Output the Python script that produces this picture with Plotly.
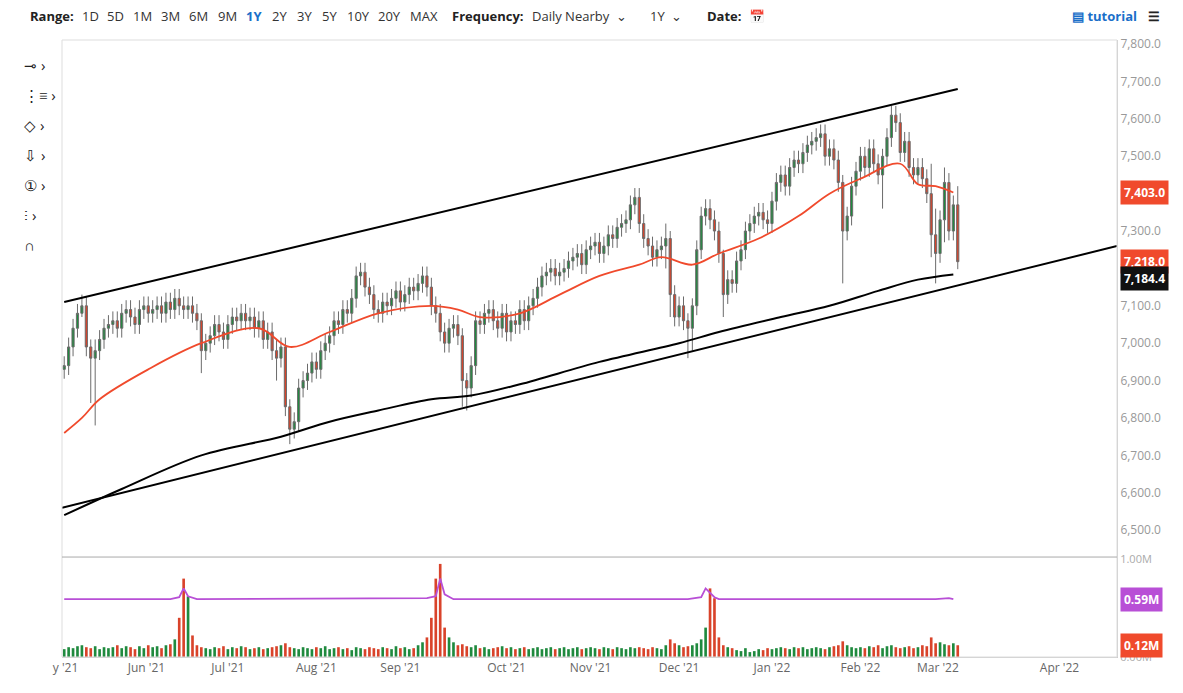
import plotly.graph_objects as go

# daily closes (candle index 0 = 18 May 2021)
closes = [
    6940, 6990, 7040, 7080, 7100, 6990, 6960, 6980, 7010, 7040,
    7050, 7060, 7040, 7080, 7090, 7070, 7050, 7090, 7100, 7080,
    7090, 7100, 7080, 7110, 7090, 7120, 7100, 7090, 7100, 7080,
    7060, 6980, 7000, 7020, 7050, 7030, 7010, 7050, 7070, 7060,
    7080, 7060, 7070, 7040, 7060, 7010, 7030, 6980, 6960, 6990,
    6830, 6770, 6790, 6880, 6900, 6920, 6950, 6930, 6980, 7000,
    7020, 7060, 7050, 7090, 7080, 7120, 7180, 7190, 7150, 7130,
    7090, 7080, 7110, 7100, 7120, 7140, 7110, 7130, 7150, 7140,
    7160, 7180, 7150, 7100, 7080, 7030, 7000, 7040, 7050, 7020,
    6900, 6880, 6940, 7060, 7050, 7080, 7090, 7060, 7040, 7080,
    7030, 7060, 7050, 7090, 7060, 7100, 7120, 7150, 7180, 7190,
    7200, 7180, 7190, 7200, 7220, 7230, 7240, 7210, 7250, 7260,
    7270, 7240, 7260, 7290, 7280, 7310, 7320, 7330, 7370, 7390,
    7320, 7280, 7260, 7230, 7250, 7260, 7280, 7130, 7070, 7100,
    7060, 7040, 7100, 7250, 7340, 7360, 7330, 7300, 7240, 7130,
    7170, 7160, 7220, 7250, 7300, 7320, 7340, 7350, 7330, 7320,
    7380, 7430, 7450, 7420, 7470, 7490, 7480, 7510, 7530, 7540,
    7550, 7560, 7500, 7520, 7490, 7430, 7300, 7340, 7420, 7460,
    7500, 7470, 7520, 7480, 7450, 7500, 7550, 7610, 7590, 7510,
    7540, 7470, 7450, 7470, 7440, 7400, 7290, 7240, 7330, 7430,
    7300, 7370, 7218,
]
first_open = 6930
wick = 25
# longer wicks seen on the chart: index -> (up, down)
long_wicks = {
    4: (30, 10), 6: (20, 120), 7: (30, 180), 31: (20, 60), 48: (30, 60),
    51: (20, 40), 90: (20, 70), 91: (20, 60), 136: (40, 60), 137: (20, 60),
    141: (20, 80), 142: (20, 60), 149: (10, 60), 176: (20, 140),
    185: (20, 90), 196: (80, 60), 197: (70, 80), 199: (40, 60), 202: (50, 20),
}

# volume (millions) per candle
volume = [
    0.08, 0.10, 0.09, 0.11, 0.12, 0.10, 0.09, 0.11, 0.08, 0.10,
    0.09, 0.10, 0.12, 0.09, 0.11, 0.10, 0.08, 0.11, 0.09, 0.12,
    0.10, 0.11, 0.09, 0.12, 0.13, 0.18, 0.40, 0.80, 0.62, 0.22,
    0.12, 0.10, 0.09, 0.08, 0.10, 0.09, 0.11, 0.08, 0.10, 0.09,
    0.11, 0.10, 0.08, 0.09, 0.10, 0.08, 0.09, 0.10, 0.11, 0.12,
    0.14, 0.10, 0.09, 0.08, 0.10, 0.09, 0.08, 0.10, 0.09, 0.11,
    0.08, 0.09, 0.10, 0.08, 0.09, 0.07, 0.10, 0.09, 0.08, 0.10,
    0.09, 0.08, 0.10, 0.09, 0.08, 0.11, 0.09, 0.10, 0.08, 0.09,
    0.12, 0.15, 0.20, 0.40, 0.80, 0.95, 0.30, 0.20, 0.15, 0.12,
    0.13, 0.11, 0.10, 0.12, 0.09, 0.10, 0.08, 0.09, 0.10, 0.11,
    0.09, 0.10, 0.08, 0.09, 0.10, 0.08, 0.09, 0.10, 0.08, 0.09,
    0.10, 0.08, 0.09, 0.10, 0.08, 0.09, 0.10, 0.08, 0.09, 0.10,
    0.09, 0.08, 0.10, 0.09, 0.08, 0.10, 0.09, 0.08, 0.10, 0.09,
    0.10, 0.09, 0.08, 0.10, 0.09, 0.08, 0.12, 0.18, 0.14, 0.12,
    0.10, 0.11, 0.12, 0.14, 0.18, 0.30, 0.70, 0.60, 0.20, 0.12,
    0.10, 0.09, 0.07, 0.06, 0.09, 0.05, 0.06, 0.08, 0.07, 0.09,
    0.08, 0.09, 0.10, 0.09, 0.08, 0.10, 0.09, 0.10, 0.08, 0.09,
    0.10, 0.09, 0.08, 0.10, 0.11, 0.12, 0.16, 0.12, 0.10, 0.09,
    0.10, 0.09, 0.11, 0.10, 0.12, 0.09, 0.11, 0.12, 0.10, 0.09,
    0.10, 0.11, 0.09, 0.10, 0.12, 0.11, 0.20, 0.14, 0.15, 0.13,
    0.12, 0.14, 0.12,
]

# moving averages and open interest line (candle index, value)
ma50_idx = [0, 4, 8, 19, 31, 44, 51, 60, 71, 83, 89, 94, 103, 112, 121, 130, 135, 142, 148, 157, 166, 173, 180, 189, 193, 197, 201]
ma50_val = [6760, 6800, 6850, 6930, 7000, 7040, 6990, 7030, 7080, 7100, 7090, 7070, 7080, 7130, 7180, 7210, 7230, 7210, 7240, 7280, 7340, 7400, 7440, 7480, 7425, 7420, 7403]
ma200_idx = [0, 13, 31, 49, 60, 71, 83, 92, 103, 121, 139, 148, 162, 173, 184, 193, 201]
ma200_val = [6540, 6610, 6700, 6750, 6790, 6820, 6850, 6860, 6890, 6950, 7000, 7030, 7070, 7100, 7140, 7170, 7184]
oi_idx = [0, 24, 26, 27, 28, 30, 82, 84, 85, 86, 88, 141, 144, 145, 147, 148, 190, 197, 200, 201]
oi_val = [0.59, 0.59, 0.61, 0.70, 0.62, 0.59, 0.60, 0.62, 0.80, 0.64, 0.59, 0.59, 0.61, 0.70, 0.61, 0.59, 0.59, 0.59, 0.60, 0.59]

# hand-drawn trend lines (candle index, price)
upper_line = ([0, 202], [7110, 7680])
lower_line = ([-0.5, 238], [6560, 7260])

tick_pos = [0.3, 18.6, 37, 57, 76, 100, 119, 139, 160, 180, 197.5, 225]
tick_txt = ["y '21", "Jun '21", "Jul '21", "Aug '21", "Sep '21", "Oct '21",
            "Nov '21", "Dec '21", "Jan '22", "Feb '22", "Mar '22", "Apr '22"]

GREEN = "#1f8a3e"
RED = "#d9432a"
W, H = 1175, 685          # page adds an 8px body margin
L, R, T, B = 54, 66, 32, 36
PW, PH = W - L - R, H - T - B

idx = list(range(len(closes)))
opens = [first_open] + closes[:-1]
highs, lows = [], []
for i, (o, c) in enumerate(zip(opens, closes)):
    up, dn = long_wicks.get(i, (wick, wick))
    highs.append(max(o, c) + up)
    lows.append(min(o, c) - dn)
vol_colors = [GREEN if c >= o else RED for o, c in zip(opens, closes)]

fig = go.Figure()
fig.add_trace(go.Candlestick(
    x=idx, open=opens, high=highs, low=lows, close=closes,
    increasing=dict(fillcolor=GREEN, line=dict(color="#6b6b6b", width=1)),
    decreasing=dict(fillcolor=RED, line=dict(color="#6b6b6b", width=1)),
    whiskerwidth=0, yaxis="y2", showlegend=False, hoverinfo="skip",
))
fig.add_trace(go.Scatter(x=ma50_idx, y=ma50_val, mode="lines", line=dict(color="#f04a2c", width=1.8, shape="spline"), yaxis="y2", showlegend=False))
fig.add_trace(go.Scatter(x=ma200_idx, y=ma200_val, mode="lines", line=dict(color="black", width=2, shape="spline"), yaxis="y2", showlegend=False))
for xs, ys in (upper_line, lower_line):
    fig.add_trace(go.Scatter(x=xs, y=ys, mode="lines", line=dict(color="black", width=2), yaxis="y2", showlegend=False))
fig.add_trace(go.Bar(x=idx, y=volume, marker=dict(color=vol_colors, line=dict(width=0)), width=0.6, yaxis="y", showlegend=False))
fig.add_trace(go.Scatter(x=oi_idx, y=oi_val, mode="lines", line=dict(color="#b84fd6", width=1.8), yaxis="y", showlegend=False))

fig.update_layout(
    width=W, height=H,
    margin=dict(l=L, r=R, t=T, b=B),
    plot_bgcolor="white", paper_bgcolor="white",
    font=dict(family="Open Sans", size=12, color="#999"),
    xaxis=dict(range=[-0.5, 238], tickvals=tick_pos, ticktext=tick_txt, showgrid=False,
               zeroline=False, rangeslider=dict(visible=False), showline=True,
               linecolor="#ccc", tickfont=dict(color="#666", size=12)),
    yaxis=dict(domain=[0, 0.162], range=[0, 1.02], side="right", tickvals=[0, 1],
               ticktext=["0.00M", "1.00M"], showgrid=False, zeroline=False,
               showline=True, linecolor="#ccc", tickfont=dict(size=11, color="#aaa")),
    yaxis2=dict(domain=[0.162, 1], range=[6428, 7811], side="right", anchor="x",
                tickvals=list(range(6500, 7801, 100)), tickformat=",.1f", showgrid=False,
                zeroline=False, showline=True, linecolor="#ccc", tickfont=dict(size=12, color="#999")),
)
fig.add_shape(type="rect", xref="paper", yref="paper", x0=0, x1=1, y0=0, y1=1, line=dict(color="#ddd", width=1))
fig.add_shape(type="line", xref="paper", yref="paper", x0=0, x1=1, y0=0.162, y1=0.162, line=dict(color="#aaa", width=1))

# right-hand value tags
tags = [("y2", 7403, "7,403.0", "#f04a2c"), ("y2", 7218, "7,218.0", "#f04a2c"),
        ("y2", 7174, "7,184.4", "#111"), ("y", 0.59, "0.59M", "#b84fd6"), ("y", 0.12, "0.12M", "#f04a2c")]
for yref, yv, txt, col in tags:
    fig.add_annotation(x=1.003, xref="paper", y=yv, yref=yref, text=f"<b>{txt}</b>", showarrow=False,
                       xanchor="left", bgcolor=col, font=dict(color="white", size=12), borderpad=3)


def page_x(px):
    return (px - 8 - L) / PW


def page_y(py):
    return (H - B - (py - 8)) / PH


# toolbar
bar_items = [(28, "<b>Range:</b>", "#222"), (80, "1D", "#333"), (105, "5D", "#333"), (131, "1M", "#333"),
             (159, "3M", "#333"), (187, "6M", "#333"), (216, "9M", "#333"), (244, "<b>1Y</b>", "#1a6fc9"),
             (270, "2Y", "#333"), (295, "3Y", "#333"), (320, "5Y", "#333"), (345, "10Y", "#333"),
             (376, "20Y", "#333"), (408, "MAX", "#333"), (450, "<b>Frequency:</b>", "#222"),
             (530, "Daily Nearby  ⌄", "#333"), (648, "1Y  ⌄", "#333"), (705, "<b>Date:</b>", "#222"),
             (747, "📅", "#1a6fc9"), (1070, "<b>▤ tutorial</b>", "#1a6fc9"), (1146, "<b>☰</b>", "#222")]
for px, txt, col in bar_items:
    fig.add_annotation(x=page_x(px), y=page_y(16), xref="paper", yref="paper", yanchor="middle",
                       xanchor="left", text=txt, showarrow=False, font=dict(color=col, size=13))

icons = ["⊸ ›", "⋮≡ ›", "◇ ›", "⇩ ›", "① ›", "⫶ ›", "∩"]
for k, t in enumerate(icons):
    fig.add_annotation(x=page_x(22), y=page_y(65 + 30 * k), xref="paper", yref="paper", yanchor="middle",
                       xanchor="left", text=t, showarrow=False, font=dict(color="#222", size=15))

fig.write_html("out.html")
